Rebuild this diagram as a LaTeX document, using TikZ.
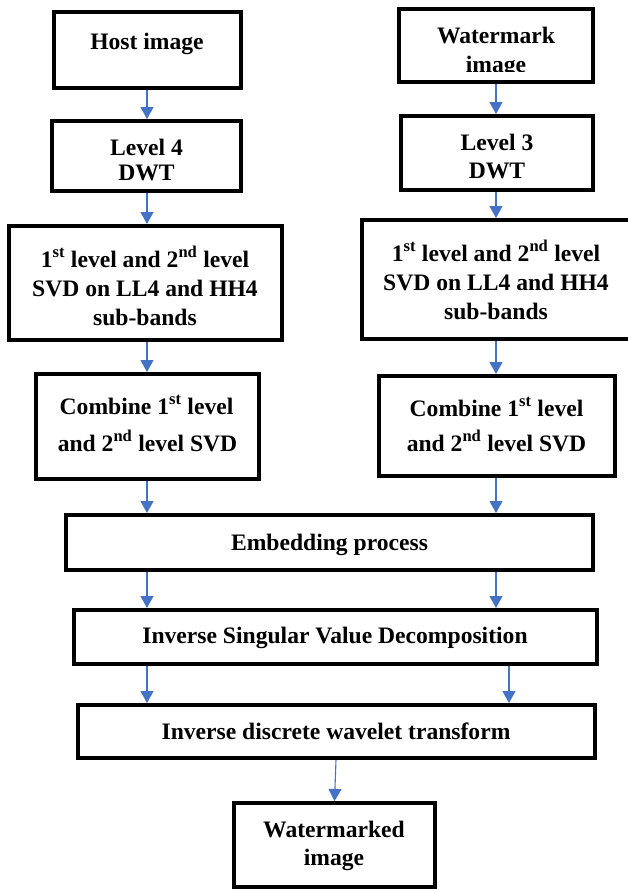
\documentclass[tikz,border=0pt]{standalone}
\usepackage{fontspec}
\setmainfont{Liberation Serif}
\usetikzlibrary{arrows.meta}
\definecolor{arrowblue}{HTML}{4472C4}
\begin{document}
\begin{tikzpicture}[x=1pt,y=-1pt,
  box/.style={draw=black, line width=4pt, inner sep=0pt, fill=white},
  txt/.style={font=\bfseries\fontsize{23.6}{28}\selectfont, inner sep=0pt, anchor=base},
  arr/.style={draw=arrowblue, line width=1.1pt, -{Triangle[width=13pt,length=12pt]}}]
\useasboundingbox (0,0) rectangle (627,889);

% columns of the vertical connectors
\coordinate (xl) at (147,0);
\coordinate (xr) at (496,0);
\coordinate (xr2) at (509,0);
\coordinate (xm) at (336,0);

% ---- host branch ----
\node[box, minimum width=187, minimum height=76] (host) at (147.5,50) {};
\node[txt] (tHost) at (147,49) {Host image};

\node[box, minimum width=189, minimum height=70] (l4) at (146.5,156) {};
\node[txt] (tL4a) at (146.5,155) {Level 4};
\node[txt] (tL4b) at (146.5,180) {DWT};

\node[box, minimum width=273, minimum height=114] (svdL) at (145.5,283) {};
\node[txt] (tSvdLa) at (145,267) {1\textsuperscript{st} level and 2\textsuperscript{nd} level};
\node[txt] (tSvdLb) at (145,296) {SVD on LL4 and HH4};
\node[txt] (tSvdLc) at (145,325) {sub-bands};

\node[box, minimum width=223, minimum height=105] (cmbL) at (147.5,426.5) {};
\node[txt] (tCmbLa) at (146.5,414) {Combine 1\textsuperscript{st} level};
\node[txt] (tCmbLb) at (147.5,451) {and 2\textsuperscript{nd} level SVD};

% ---- watermark branch ----
\node[box, minimum width=194, minimum height=73] (wm) at (496,45.5) {};
\node[txt] (tWmA) at (496,43) {Watermark};
\begin{scope}
  \clip (399,11) rectangle (593,71.5);
  \node[txt] (tWmB) at (496,72) {image};
\end{scope}

\node[box, minimum width=192, minimum height=74] (l3) at (497,153) {};
\node[txt] (tL3a) at (497,150) {Level 3};
\node[txt] (tL3b) at (497,178) {DWT};

\node[box, minimum width=268, minimum height=119] (svdR) at (496,279.5) {};
\node[txt] (tSvdRa) at (496,261) {1\textsuperscript{st} level and 2\textsuperscript{nd} level};
\node[txt] (tSvdRb) at (496,290) {SVD on LL4 and HH4};
\node[txt] (tSvdRc) at (496,319) {sub-bands};

\node[box, minimum width=236, minimum height=100] (cmbR) at (497,426) {};
\node[txt] (tCmbRa) at (496.5,416) {Combine 1\textsuperscript{st} level};
\node[txt] (tCmbRb) at (496.5,451) {and 2\textsuperscript{nd} level SVD};

% ---- joint stages ----
\node[box, minimum width=527, minimum height=55] (emb) at (329.5,542.5) {};
\node[txt] (tEmb) at (329.5,550) {Embedding process};

\node[box, minimum width=523, minimum height=54] (isvd) at (335.5,637) {};
\node[txt] (tIsvd) at (335,643) {Inverse Singular Value Decomposition};

\node[box, minimum width=517, minimum height=53] (idwt) at (336.5,731.5) {};
\node[txt] (tIdwt) at (336,739) {Inverse discrete wavelet transform};

\node[box, minimum width=201, minimum height=84] (wmd) at (334.5,845) {};
\node[txt] (tWmdA) at (334,837) {Watermarked};
\node[txt] (tWmdB) at (334,865) {image};

% ---- connectors ----
\draw[arr] (host.south -| xl) -- (l4.north -| xl);
\draw[arr] (l4.south -| xl) -- (svdL.north -| xl);
\draw[arr] (svdL.south -| xl) -- (cmbL.north -| xl);
\draw[arr] (cmbL.south -| xl) -- (emb.north -| xl);

\draw[arr] (wm.south -| xr) -- (l3.north -| xr);
\draw[arr] (l3.south -| xr) -- (svdR.north -| xr);
\draw[arr] (svdR.south -| xr) -- (cmbR.north -| xr);
\draw[arr] (cmbR.south -| xr) -- (emb.north -| xr);

\draw[arr] (emb.south -| xl) -- (isvd.north -| xl);
\draw[arr] (emb.south -| xr) -- (isvd.north -| xr);
\draw[arr] (isvd.south -| xl) -- (idwt.north -| xl);
\draw[arr] (isvd.south -| xr2) -- (idwt.north -| xr2);
\draw[arr] (idwt.south -| xm) -- (wmd.north);
\end{tikzpicture}
\end{document}
